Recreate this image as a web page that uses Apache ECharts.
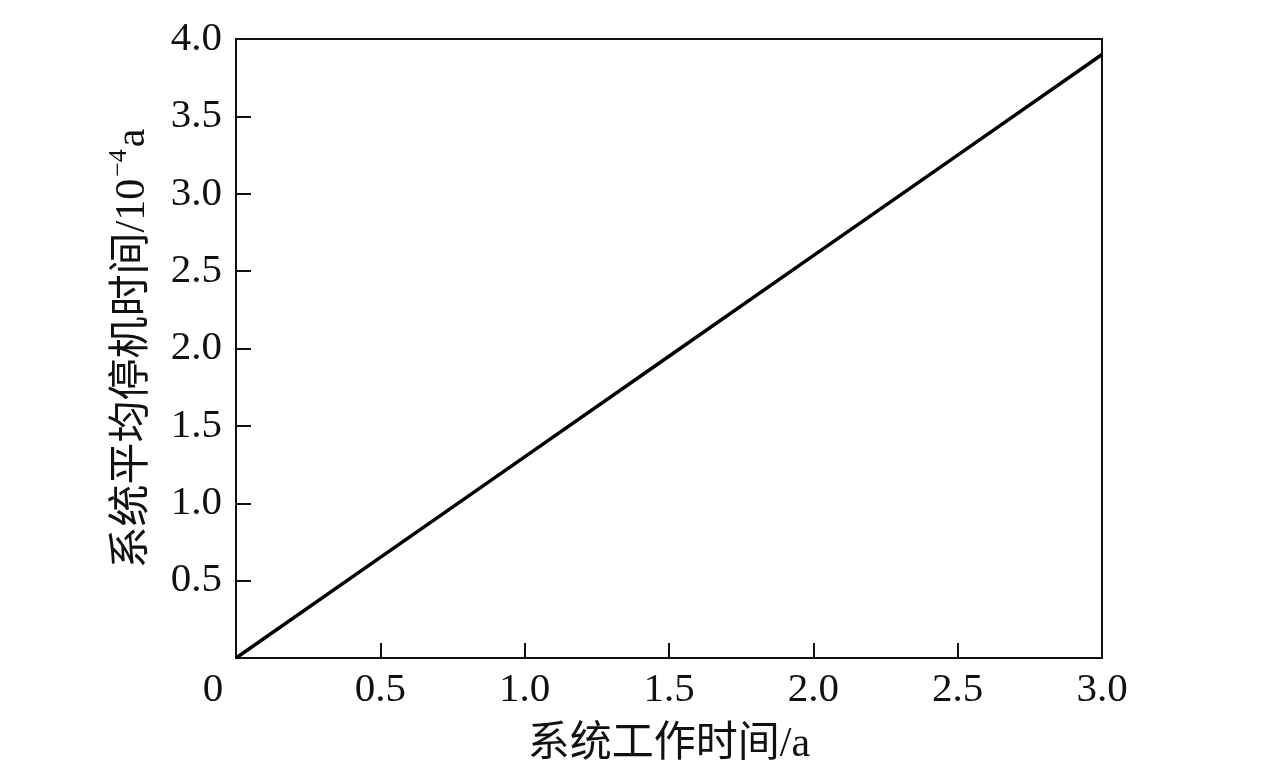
<!DOCTYPE html>
<html>
<head>
<meta charset="utf-8">
<script src="https://cdn.jsdelivr.net/npm/echarts@6/dist/echarts.min.js"></script>
<style>
html,body{margin:0;padding:0;background:#fff;}
#c{width:1276px;height:765px;}
</style>
</head>
<body>
<div id="c"></div>
<script>
var workTime = [0, 0.5, 1.0, 1.5, 2.0, 2.5, 3.0];
var downTime = [0, 0.65, 1.3, 1.95, 2.6, 3.25, 3.9];
var xTitle = '系统工作时间/a';
var yTitleMain = '系统平均停机时间/10';
var yTitleSup = '−4';
var yTitleUnit = 'a';

var serif = '"Liberation Serif", "Times New Roman", "Noto Sans CJK SC", serif';
var chart = echarts.init(document.getElementById('c'));
chart.setOption({
  animation: false,
  backgroundColor: '#fff',
  grid: {left: 236, top: 39, right: 174, bottom: 107, containLabel: false, outerBoundsMode: 'none',
         show: true, borderColor: '#111', borderWidth: 2, backgroundColor: 'transparent'},
  xAxis: {
    type: 'value', min: 0, max: 3, interval: 0.5,
    name: xTitle, nameLocation: 'middle', nameGap: 66,
    nameTextStyle: {fontFamily: serif, fontSize: 42, color: '#111'},
    axisLine: {show: true, onZero: false, lineStyle: {color: '#111', width: 2}},
    axisTick: {show: true, inside: true, length: 15, lineStyle: {color: '#111', width: 2}},
    splitLine: {show: false},
    axisLabel: {
      margin: 12, color: '#111', fontFamily: serif, fontSize: 41,
      formatter: function (v) { return v === 0 ? '{z|0}' : v.toFixed(1); },
      rich: {z: {fontFamily: serif, fontSize: 41, color: '#111', padding: [0, 46, 0, 0]}}
    }
  },
  yAxis: {
    type: 'value', min: 0, max: 4, interval: 0.5,
    name: '{m|' + yTitleMain + '}{s|' + yTitleSup + '}{m|' + yTitleUnit + '}',
    nameLocation: 'middle', nameGap: 82, nameRotate: 90,
    nameTextStyle: {
      fontFamily: serif, fontSize: 42, color: '#111',
      rich: {
        m: {fontFamily: serif, fontSize: 42, color: '#111', verticalAlign: 'bottom', lineHeight: 48},
        s: {fontFamily: serif, fontSize: 26, color: '#111', verticalAlign: 'top', lineHeight: 48, padding: [0, 2, 20, 2]}
      }
    },
    axisLine: {show: true, lineStyle: {color: '#111', width: 2}},
    axisTick: {show: true, inside: true, length: 15, lineStyle: {color: '#111', width: 2}},
    splitLine: {show: false},
    axisLabel: {
      margin: 14, color: '#111', fontFamily: serif, fontSize: 41,
      formatter: function (v) { return v === 0 ? '' : v.toFixed(1); }
    }
  },
  series: [{
    type: 'line',
    data: workTime.map(function (t, i) { return [t, downTime[i]]; }),
    showSymbol: false,
    lineStyle: {color: '#000', width: 3.5},
    silent: true
  }]
});
</script>
</body>
</html>
